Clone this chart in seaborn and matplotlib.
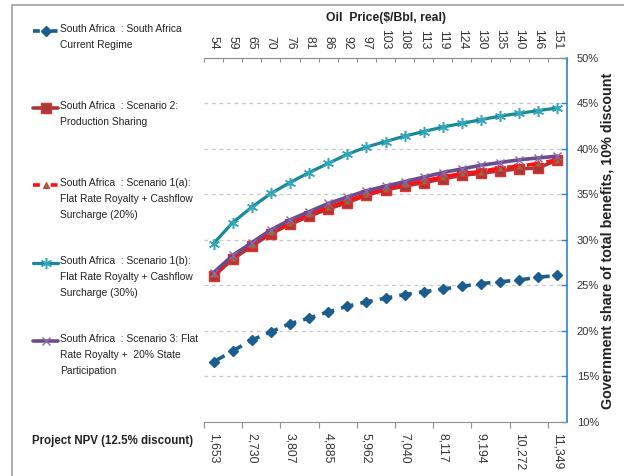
import matplotlib
matplotlib.use("Agg")
import matplotlib.pyplot as plt
from matplotlib.lines import Line2D
from matplotlib.patches import Rectangle
import seaborn as sns
import pandas as pd
import numpy as np

oil_price = [54, 59, 65, 70, 76, 81, 86, 92, 97, 103, 108, 113, 119, 124, 130, 135, 140, 146, 151]
npv_labels = ["1,653", "2,730", "3,807", "4,885", "5,962", "7,040", "8,117", "9,194", "10,272", "11,349"]

current = [16.6, 17.8, 19.0, 19.9, 20.8, 21.4, 22.1, 22.7, 23.2, 23.6, 24.0, 24.3, 24.6, 24.9, 25.2, 25.4, 25.6, 25.9, 26.1]
scen2 = [26.0, 27.9, 29.3, 30.7, 31.7, 32.6, 33.4, 34.1, 34.9, 35.5, 35.9, 36.3, 36.7, 37.1, 37.3, 37.6, 37.8, 37.9, 38.8]
scen1a = [26.2, 28.0, 29.4, 30.9, 31.9, 32.8, 33.6, 34.3, 35.0, 35.6, 36.1, 36.5, 36.9, 37.3, 37.5, 37.9, 38.1, 38.4, 38.8]
scen1b = [29.6, 31.9, 33.6, 35.1, 36.3, 37.4, 38.4, 39.4, 40.2, 40.8, 41.4, 41.9, 42.4, 42.8, 43.2, 43.6, 43.9, 44.2, 44.5]
scen3 = [26.4, 28.3, 29.7, 31.1, 32.2, 33.1, 34.0, 34.7, 35.4, 35.9, 36.4, 36.9, 37.4, 37.8, 38.2, 38.5, 38.8, 39.0, 39.2]

names = [
    "South Africa  : South Africa\nCurrent Regime",
    "South Africa  : Scenario 2:\nProduction Sharing",
    "South Africa  : Scenario 1(a):\nFlat Rate Royalty + Cashflow\nSurcharge (20%)",
    "South Africa  : Scenario 1(b):\nFlat Rate Royalty + Cashflow\nSurcharge (30%)",
    "South Africa  : Scenario 3: Flat\nRate Royalty +  20% State\nParticipation",
]
series = [current, scen2, scen1a, scen1b, scen3]

styles = [
    dict(color="#1b5e8d", ls=(0, (3.5, 2)), lw=2.6, marker="D", ms=5, mfc="#1b5e8d", mec="#1b5e8d", mew=1),
    dict(color="#a3393a", ls="-", lw=2.6, marker="s", ms=6.5, mfc="#a3393a", mec="#e8302c", mew=1),
    dict(color="#ff1010", ls=(0, (3.5, 2)), lw=2.6, marker="^", ms=5, mfc="#5d8a3c", mec="#e83030", mew=0.8),
    dict(color="#17899a", ls="-", lw=2.3, marker=(6, 2, 0), ms=8, mfc="#35a7b8", mec="#35a7b8", mew=1.1),
    dict(color="#6b4d8d", ls="-", lw=2.6, marker="x", ms=6, mfc="#8a6aa8", mec="#8a6aa8", mew=1),
]

rows = []
for name, vals in zip(names, series):
    for i, v in enumerate(vals):
        rows.append({"series": name, "idx": i, "value": v})
df = pd.DataFrame(rows)

sns.set_style("white")
plt.rcParams["font.family"] = ["Liberation Sans", "DejaVu Sans"]

fig = plt.figure(figsize=(6.24, 4.76), dpi=100)
ax = fig.add_axes([204 / 624, 1 - 422 / 476, (567 - 204) / 624, (422 - 57.8) / 476])

for name, st in zip(names, styles):
    sub = df[df["series"] == name]
    sns.lineplot(data=sub, x="idx", y="value", ax=ax, color=st["color"], linestyle=st["ls"],
                 linewidth=st["lw"], marker=st["marker"], markersize=st["ms"],
                 markerfacecolor=st["mfc"], markeredgecolor=st["mec"], markeredgewidth=st["mew"],
                 estimator=None, sort=False, legend=False)

n = len(oil_price)
ax.set_xlim(-0.5, n - 0.5)
ax.set_ylim(10, 50)
ax.set_xlabel("")
ax.set_ylabel("")

# grid
for yv in range(15, 50, 5):
    ax.axhline(yv, color="#c8c8c8", lw=0.9, ls=(0, (3, 3)), zorder=0)

# right y axis
ax.yaxis.tick_right()
ax.yaxis.set_label_position("right")
ax.set_yticks(range(10, 51, 5))
ax.set_yticklabels([f"{v}%" for v in range(10, 51, 5)], fontsize=8, color="#333333")
ax.tick_params(axis="y", which="major", direction="in", length=4, color="#2e86c8", pad=7, width=1)

ax.spines["left"].set_visible(False)
ax.spines["right"].set_color("#2e86c8")
ax.spines["right"].set_linewidth(1.2)
ax.spines["bottom"].set_color("#909090")
ax.spines["top"].set_color("#909090")

# bottom axis: NPV
bottom_pos = np.arange(0, n, 2)
ax.set_xticks(np.arange(-0.5, n, 2))
ax.set_xticklabels([])
ax.set_xticks(bottom_pos, minor=True)
ax.set_xticklabels(npv_labels, minor=True, rotation=270, fontsize=8.8, color="#333333")
ax.tick_params(axis="x", which="major", direction="out", length=4, color="#909090", bottom=True)
ax.tick_params(axis="x", which="minor", length=0, pad=8, bottom=True)

# top axis: oil price
top = ax.secondary_xaxis("top")
top.set_xticks(np.arange(-0.5, n, 1))
top.set_xticklabels([])
top.set_xticks(np.arange(n), minor=True)
top.set_xticklabels([str(p) for p in oil_price], minor=True, rotation=270, fontsize=8.8, color="#333333")
top.tick_params(axis="x", which="major", direction="in", length=3, color="#909090")
top.tick_params(axis="x", which="minor", length=0, pad=6)
top.spines["top"].set_color("#909090")

fig.text(386 / 624, 1 - 18 / 476, "Oil  Price($/Bbl, real)", ha="center", va="center",
         fontsize=8.8, fontweight="bold", color="#222222")
fig.text(607 / 624, 1 - 241 / 476, "Government share of total benefits, 10% discount", ha="center",
         va="center", rotation=90, fontsize=10.3, fontweight="bold", color="#222222")
fig.text(32 / 624, 1 - 441 / 476, "Project NPV (12.5% discount)", ha="left", va="center",
         fontsize=8.3, fontweight="bold", color="#222222")

# outer border
fig.patches.append(Rectangle((12 / 624, -0.2), 1.2, 1.2 - 5 / 476, transform=fig.transFigure,
                             fill=False, edgecolor="#a0a0a0", lw=1.2))

# legend (manual, first line aligned with handle)
leg_y = [31, 108, 185, 263, 341]
for name, st, yy in zip(names, styles, leg_y):
    yf = 1 - yy / 476
    hls = (0, (1.9, 3.0)) if st["ls"] != "-" else "-"
    fig.add_artist(Line2D([33 / 624, 58 / 624], [yf, yf], transform=fig.transFigure,
                          color=st["color"], ls=hls, lw=st["lw"]))
    fig.add_artist(Line2D([45.5 / 624], [yf], transform=fig.transFigure, marker=st["marker"],
                          ms=st["ms"], mfc=st["mfc"], mec=st["mec"], mew=st["mew"], ls="none"))
    fig.text(60 / 624, yf + 7 / 476, name, ha="left", va="top", fontsize=7.4, color="#222222",
             linespacing=1.75, transform=fig.transFigure)

fig.savefig("out.png", dpi=100)
